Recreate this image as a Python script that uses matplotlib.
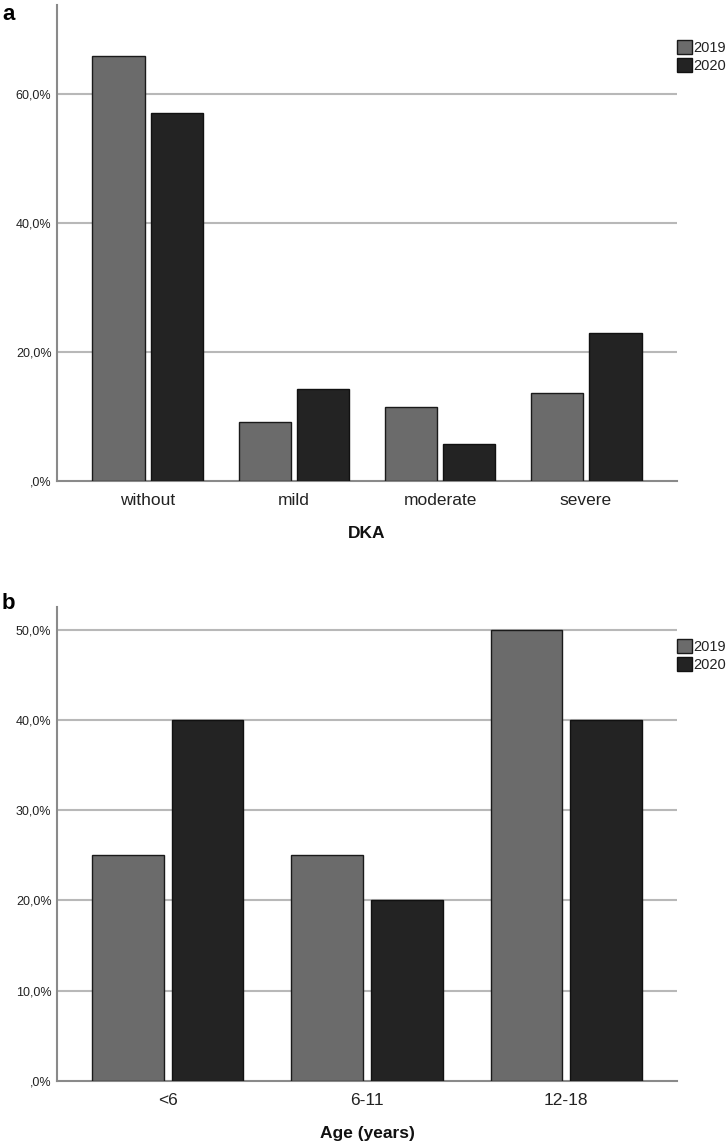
import matplotlib
matplotlib.use("Agg")
import matplotlib.pyplot as plt
import numpy as np
from matplotlib.patches import Patch

plt.rcParams['font.family'] = ['Liberation Sans', 'DejaVu Sans']

# Panel a data
dka_categories = ["without", "mild", "moderate", "severe"]
dka_2019 = [65.9, 9.1, 11.4, 13.6]
dka_2020 = [57.1, 14.3, 5.7, 22.9]
dka_yticks = [0, 20, 40, 60]
dka_yticklabels = [",0%", "20,0%", "40,0%", "60,0%"]

# Panel b data
age_categories = ["<6", "6-11", "12-18"]
age_2019 = [25.0, 25.0, 50.0]
age_2020 = [40.0, 20.0, 40.0]
age_yticks = [0, 10, 20, 30, 40, 50]
age_yticklabels = [",0%", "10,0%", "20,0%", "30,0%", "40,0%", "50,0%"]

series_labels = ["2019", "2020"]
colors = ["#6b6b6b", "#232323"]

W, H = 728, 1146
fig = plt.figure(figsize=(W / 100, H / 100), dpi=100)

def fx(px):
    return px / W

def fy(py):
    return 1 - py / H

ax_a = fig.add_axes([fx(57), fy(481), fx(677) - fx(57), fy(5) - fy(481)])
ax_b = fig.add_axes([fx(57), fy(1081), fx(677) - fx(57), fy(607) - fy(1081)])

def draw(ax, cats, v19, v20, yticks, yticklabels, ylim_top, xlabel, margin):
    x = np.arange(len(cats))
    w = 0.36
    off = 0.2
    ax.bar(x - off, v19, w, color=colors[0], edgecolor="#1a1a1a", linewidth=1, zorder=3)
    ax.bar(x + off, v20, w, color=colors[1], edgecolor="#111111", linewidth=1, zorder=3)
    ax.set_xlim(-margin, len(cats) - 1 + margin)
    ax.set_ylim(0, ylim_top)
    ax.set_yticks(yticks)
    ax.set_yticklabels(yticklabels, fontsize=9, color="#222222")
    ax.set_xticks(x)
    ax.set_xticklabels(cats, fontsize=12.5, color="#222222")
    ax.tick_params(axis="both", length=0)
    ax.tick_params(axis="x", pad=8.5)
    ax.tick_params(axis="y", pad=4)
    for t in yticks[1:]:
        ax.axhline(t, color="#b8b8b8", linewidth=1.5, zorder=1)
    for s in ["top", "right"]:
        ax.spines[s].set_visible(False)
    for s in ["left", "bottom"]:
        ax.spines[s].set_color("#8a8a8a")
        ax.spines[s].set_linewidth(1.5)
    ax.set_xlabel(xlabel, fontsize=12.5, fontweight="bold", labelpad=13, color="#111111")

draw(ax_a, dka_categories, dka_2019, dka_2020, dka_yticks, dka_yticklabels, 73.8, "DKA", 0.623)
draw(ax_b, age_categories, age_2019, age_2020, age_yticks, age_yticklabels, 52.5, "Age (years)", 0.555)

handles = [Patch(facecolor=colors[0], edgecolor="#1a1a1a"), Patch(facecolor=colors[1], edgecolor="#111111")]
for ypx in (40, 639):
    fig.legend(handles, series_labels, loc="upper left", bbox_to_anchor=(fx(677), fy(ypx)),
               frameon=False, fontsize=10.5, handlelength=1.0, handleheight=1.05,
               handletextpad=0.1, labelspacing=0.25, borderpad=0, borderaxespad=0,
               labelcolor="#222222")

fig.text(fx(2), fy(4), "a", fontsize=16, fontweight="bold", va="top", ha="left")
fig.text(fx(2), fy(593), "b", fontsize=16, fontweight="bold", va="top", ha="left")

fig.savefig("out.png", dpi=100)
